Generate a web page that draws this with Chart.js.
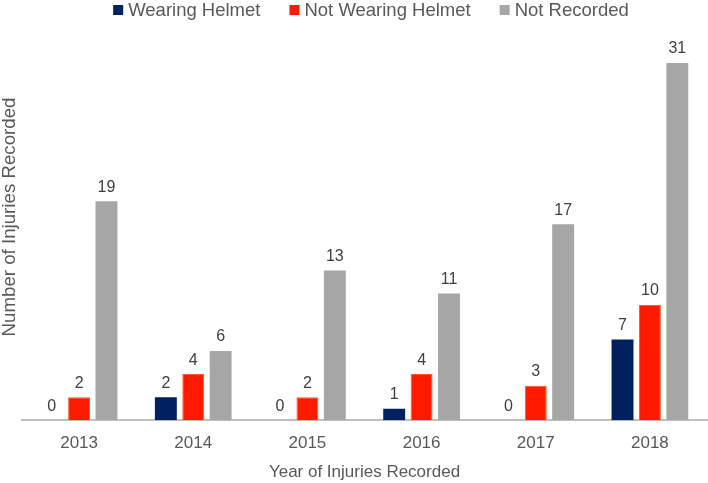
<!DOCTYPE html>
<html>
<head>
<meta charset="utf-8">
<script src="https://cdn.jsdelivr.net/npm/chart.js@4"></script>
<style>
  html, body { margin: 0; padding: 0; background: #fff; }
  #wrap { width: 708px; height: 483px; }
</style>
</head>
<body>
<div id="wrap"><canvas id="chart" width="708" height="483"></canvas></div>
<script>
// données
const years = ['2013', '2014', '2015', '2016', '2017', '2018'];
const wearingHelmet = [0, 2, 0, 1, 0, 7];
const notWearingHelmet = [2, 4, 2, 4, 3, 10];
const notRecorded = [19, 6, 13, 11, 17, 31];
const seriesColors = ['#002060', '#FF1A00', '#A6A6A6'];
const yTitle = 'Number of Injuries Recorded';

const FONT = '"Liberation Sans", Arial, sans-serif';

// étiquettes de valeur au-dessus des barres
const valueLabels = {
    id: 'valueLabels',
    afterDatasetsDraw(chart) {
        const ctx = chart.ctx;
        ctx.save();
        ctx.font = '16px ' + FONT;
        ctx.fillStyle = '#404040';
        ctx.textAlign = 'center';
        ctx.textBaseline = 'bottom';
        chart.data.datasets.forEach((ds, i) => {
            chart.getDatasetMeta(i).data.forEach((bar, j) => {
                ctx.fillText(ds.data[j], bar.x, bar.y - 6);
            });
        });
        ctx.restore();
    }
};

// légende + titre vertical dessinés à la main (placement comme l'original)
const decorations = {
    id: 'decorations',
    afterDraw(chart) {
        const ctx = chart.ctx;
        const box = 10, gapText = 5, gapItem = 29, y = 10;
        ctx.save();
        ctx.font = '18.5px ' + FONT;
        ctx.textBaseline = 'middle';
        const items = chart.data.datasets.map(ds => ({ text: ds.label, color: ds.backgroundColor }));
        const total = items.reduce((s, it) => s + box + gapText + ctx.measureText(it.text).width, 0) + gapItem * (items.length - 1);
        let x = (chart.width - total) / 2 + 17;
        items.forEach(it => {
            ctx.fillStyle = it.color;
            ctx.fillRect(x, y - box / 2, box, box);
            x += box + gapText;
            ctx.fillStyle = '#595959';
            ctx.fillText(it.text, x, y + 1);
            x += ctx.measureText(it.text).width + gapItem;
        });
        // titre de l'axe Y
        ctx.translate(10, 217);
        ctx.rotate(-Math.PI / 2);
        ctx.font = '18.7px ' + FONT;
        ctx.textAlign = 'center';
        ctx.fillText(yTitle, 0, 0);
        ctx.restore();
    }
};

new Chart(document.getElementById('chart'), {
    type: 'bar',
    data: {
        labels: years,
        datasets: [
            { label: 'Wearing Helmet', data: wearingHelmet, backgroundColor: seriesColors[0] },
            { label: 'Not Wearing Helmet', data: notWearingHelmet, backgroundColor: seriesColors[1], borderColor: '#FF5A1F', borderWidth: 1 },
            { label: 'Not Recorded', data: notRecorded, backgroundColor: seriesColors[2] }
        ]
    },
    options: {
        responsive: false,
        animation: false,
        layout: { padding: { left: 22, right: 1, top: 40, bottom: 0 } },
        datasets: { bar: { categoryPercentage: 0.72, barPercentage: 0.8 } },
        plugins: {
            legend: { display: false },
            tooltip: { enabled: false }
        },
        scales: {
            x: {
                grid: { display: false, drawTicks: false },
                border: { color: '#BFBFBF', width: 2 },
                ticks: { color: '#595959', padding: 13, font: { family: FONT, size: 17 } },
                title: { display: true, text: 'Year of Injuries Recorded', color: '#595959', padding: { top: -4, bottom: 0 },
                         font: { family: FONT, size: 17 } }
            },
            y: {
                display: false,
                min: 0, max: 33
            }
        }
    },
    plugins: [valueLabels, decorations]
});
</script>
</body>
</html>
